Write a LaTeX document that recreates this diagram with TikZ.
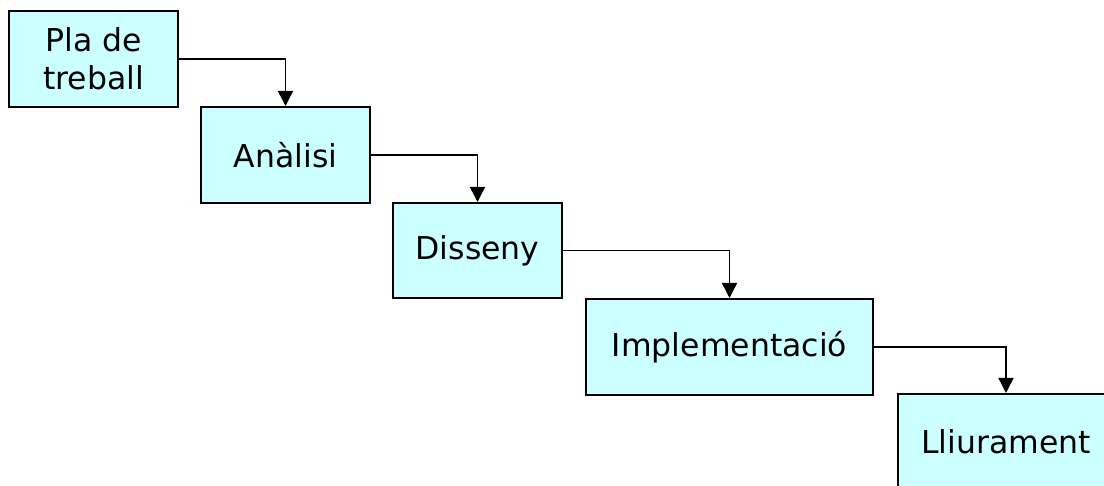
\documentclass[tikz,border=0pt]{standalone}
\usepackage{fontspec}
\setmainfont{DejaVu Sans}
\usetikzlibrary{arrows.meta}

\definecolor{boxcyan}{HTML}{CCFFFF}

\begin{document}
\begin{tikzpicture}[x=1pt,y=1pt,
    phase/.style={draw, line width=2pt, fill=boxcyan, align=center, inner sep=0pt,
      minimum height=96pt, font=\fontsize{31.5}{38}\selectfont},
    flow/.style={line width=1.4pt, -{Triangle[length=15pt,width=15pt]}}]

  % visible area
  \clip (0,0) rectangle (1104,-486);

  % phases
  \node[phase, minimum width=169pt] (pla) at (93.5,-59) {Pla de\\treball};
  \node[phase, minimum width=169pt] (analisi) at (285.5,-155) {Anàlisi};
  \node[phase, minimum width=169pt, minimum height=95pt] (disseny) at (477.5,-250.5) {Disseny};
  \node[phase, minimum width=287pt] (impl) at (729.5,-347) {Implementació};
  \node[phase, minimum width=216pt] (lliura) at (1006,-442) {Lliurament};

  % steps down
  \draw[flow] (pla.east) -| (analisi.north);
  \draw[flow] (analisi.east) -| (disseny.north);
  \draw[flow] (disseny.east) -| (impl.north);
  \draw[flow] (impl.east) -| (lliura.north);

\end{tikzpicture}
\end{document}
